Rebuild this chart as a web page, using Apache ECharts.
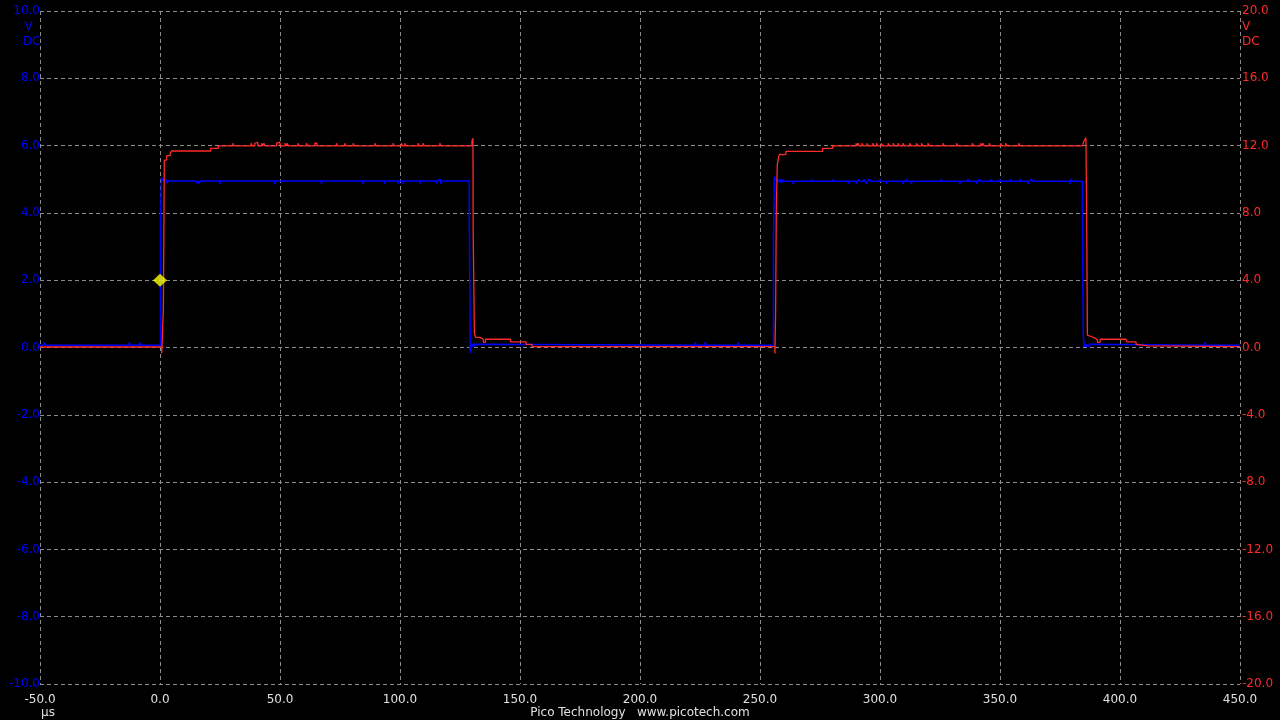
<!DOCTYPE html>
<html>
<head>
<meta charset="utf-8">
<script src="https://cdn.jsdelivr.net/npm/echarts@6/dist/echarts.min.js"></script>
<style>
html,body{margin:0;padding:0;background:#000;}
#chart{width:1280px;height:720px;}
</style>
</head>
<body>
<div id="chart"></div>
<script>
// Time axis (µs) and voltage axes
const xTicks = [-50, 0, 50, 100, 150, 200, 250, 300, 350, 400, 450];
const leftTicks = [-10, -8, -6, -4, -2, 0, 2, 4, 6, 8, 10];
const rightTicks = [-20, -16, -12, -8, -4, 0, 4, 8, 12, 16, 20];

// Channel A (blue, left axis, V) — [time µs, volts], sample-and-hold
const channelA = [
  [-50, 0.07], [-48.5, 0.15], [-47.8, 0.07], [-12.8, 0.15], [-12.2, 0.07], [-8.6, 0.15], [-8.0, 0.07],
  [0.2, 3.9], [0.6, 5.05], [1.4, 4.95], [2.0, 5.0], [2.4, 4.95], [3.0, 4.88], [3.4, 4.95], [3.8, 5.0], [4.2, 4.95],
  [9.5, 5.0], [10.0, 4.95], [11.2, 5.0], [11.6, 4.95],
  [14.8, 5.0], [15.3, 4.88], [15.8, 4.95], [16.3, 4.88], [16.8, 4.95],
  [24.8, 4.85], [25.3, 4.95],
  [34.0, 5.0], [34.4, 4.95], [35.8, 5.0], [36.2, 4.95], [38.0, 5.0], [38.4, 4.95],
  [46.9, 5.0], [47.3, 4.95], [47.8, 4.85], [48.2, 4.95], [48.6, 5.0], [49.0, 4.95],
  [55.6, 5.0], [56.0, 4.95], [57.6, 5.0], [58.0, 4.95],
  [62.8, 5.0], [63.2, 4.95], [64.6, 5.0], [65.0, 4.95], [67.2, 4.87], [67.7, 4.95],
  [84.5, 4.87], [85.0, 4.95], [87.5, 5.0], [87.9, 4.95],
  [93.6, 4.87], [94.1, 4.95], [95.8, 5.0], [96.2, 4.95],
  [99.2, 4.87], [99.6, 4.95], [101.2, 4.87], [101.7, 4.95], [102.8, 5.0], [103.2, 4.95],
  [108.2, 4.87], [108.7, 4.95], [111.8, 5.0], [112.2, 4.95],
  [115.2, 4.87], [115.6, 4.95], [116.4, 5.0], [116.8, 4.87], [117.3, 4.95],
  [128.9, 3.66], [129.3, -0.17], [129.9, 0.1], [130.4, 0.02], [130.9, 0.12], [131.4, 0.03], [131.9, 0.1], [132.5, 0.065],
  [223.0, 0.15], [223.5, 0.065], [227.0, 0.15], [227.5, 0.065], [240.8, 0.15], [241.3, 0.065],
  [255.6, 3.27], [256.0, 5.08], [256.6, 4.98], [257.0, 4.94],
  [258.0, 5.0], [258.4, 4.9], [258.8, 5.0], [259.2, 4.9], [259.6, 5.0], [260.0, 4.94],
  [263.7, 4.85], [264.2, 4.94], [271.4, 5.0], [271.9, 4.94], [280.5, 5.0], [281.0, 4.94],
  [286.8, 4.86], [287.3, 4.94], [290.1, 4.86], [290.6, 4.94], [291.0, 5.0], [291.5, 4.94],
  [293.2, 5.0], [293.7, 4.94], [294.3, 4.86], [294.8, 4.94], [295.6, 5.0], [296.2, 4.94],
  [299.9, 5.0], [300.4, 4.94], [302.6, 4.86], [303.2, 4.94], [309.5, 4.86], [310.0, 4.94],
  [310.9, 5.0], [311.4, 4.94], [313.0, 4.86], [313.5, 4.94], [325.5, 5.0], [326.0, 4.94],
  [333.1, 4.86], [333.6, 4.94], [336.6, 5.0], [337.1, 4.94], [340.2, 4.86], [340.7, 4.94],
  [341.4, 5.0], [341.9, 4.94], [346.3, 5.0], [346.8, 4.94], [349.9, 5.0], [350.4, 4.94],
  [354.0, 5.0], [354.5, 4.94], [358.2, 5.0], [358.7, 4.94], [361.7, 4.86], [362.2, 4.94],
  [363.0, 5.0], [363.5, 4.94], [379.1, 4.86], [379.6, 5.0], [380.1, 4.94],
  [384.3, 4.38], [384.7, 0.37], [385.1, 0.02], [385.5, 0.1], [385.9, 0.02], [386.4, 0.1], [386.9, 0.03], [387.5, 0.1], [388.2, 0.065],
  [435.3, 0.15], [435.8, 0.065], [450, 0.065]
];

// Channel B (red, right axis, V) — [time µs, volts], sample-and-hold
const channelB = [
  [-50, 0.03], [0.7, -0.35], [1.4, 2.2], [1.8, 11.14], [2.8, 11.4], [4.2, 11.54], [4.9, 11.68], [21.1, 11.84], [24.3, 11.98],
  [30.4, 12.14], [30.9, 11.98],
  [38.0, 12.14], [38.5, 11.98], [39.5, 12.14], [40.2, 12.2], [40.6, 12.14], [41.0, 11.98],
  [42.4, 12.14], [42.8, 11.98], [43.3, 12.14], [43.8, 11.98],
  [48.6, 12.14], [49.4, 12.2], [50.0, 11.98],
  [52.1, 12.14], [52.6, 11.98], [53.0, 12.14], [53.5, 11.98],
  [57.5, 12.14], [58.0, 11.98], [61.0, 12.14], [61.5, 11.98],
  [64.5, 12.14], [65.4, 11.98], [73.5, 12.14], [74.0, 11.98],
  [77.0, 12.14], [77.5, 11.98], [80.5, 12.14], [81.0, 11.98],
  [89.5, 12.14], [90.0, 11.98], [97.1, 12.14], [97.6, 11.98],
  [100.6, 12.14], [101.1, 11.98], [102.0, 12.14], [102.5, 11.98],
  [107.5, 12.14], [108.0, 11.98], [109.6, 12.14], [110.1, 11.98],
  [116.6, 12.14], [117.1, 11.98],
  [130.0, 12.29], [130.4, 12.43], [130.5, 6.69], [131.0, 0.84], [131.5, 0.6], [133.3, 0.49], [134.7, 0.31], [135.6, 0.49],
  [146.1, 0.33], [152.5, 0.19], [155.0, 0.05],
  [256.2, -0.35], [256.5, 1.93], [256.8, 8.27], [257.2, 10.85], [257.8, 11.38], [258.3, 11.5], [259.0, 11.45], [259.6, 11.5],
  [260.8, 11.66], [276.1, 11.84], [280.3, 11.98],
  [290.0, 12.14], [290.5, 11.98], [290.9, 12.14], [291.4, 11.98],
  [292.5, 12.14], [293.0, 11.98], [294.6, 12.14], [295.1, 11.98],
  [297.0, 12.14], [297.5, 11.98], [298.5, 12.14], [299.0, 11.98],
  [300.6, 12.14], [301.2, 11.98], [303.4, 12.14], [304.0, 11.98],
  [305.5, 12.14], [306.0, 11.98], [307.5, 12.14], [308.0, 11.98],
  [309.6, 12.14], [310.2, 11.98], [312.4, 12.14], [313.0, 11.98],
  [315.2, 12.14], [315.8, 11.98], [317.3, 12.14], [317.8, 11.98],
  [320.0, 12.14], [320.6, 11.98], [326.3, 12.14], [326.8, 11.98],
  [331.9, 12.14], [332.4, 11.98], [338.5, 12.14], [339.0, 11.98],
  [341.9, 12.14], [342.4, 11.98], [342.9, 12.14], [343.4, 11.98],
  [345.5, 12.14], [346.0, 11.98], [350.3, 12.14], [350.8, 11.98],
  [352.4, 12.14], [352.9, 11.98], [357.8, 12.14], [358.3, 11.98],
  [384.6, 12.14], [385.1, 12.29], [385.8, 12.47], [386.1, 8.27], [386.4, 0.74], [386.8, 0.64], [388.2, 0.56], [389.6, 0.45],
  [390.6, 0.31], [391.7, 0.49], [402.5, 0.4], [403.0, 0.33], [406.7, 0.19], [407.2, 0.1], [411.8, 0.05], [450, 0.05]
];

// Trigger marker
const trigger = [[0, 2.0]];

const FONT = 'DejaVu Sans';
const chart = echarts.init(document.getElementById('chart'), null, {renderer: 'canvas'});
chart.setOption({
  backgroundColor: '#000000',
  animation: false,
  grid: {left: 40, right: 40, top: 11, bottom: 36, containLabel: false},
  xAxis: {
    type: 'value', min: xTicks[0], max: xTicks[xTicks.length - 1], interval: 50,
    axisLine: {show: false}, axisTick: {show: false},
    axisLabel: {color: '#e0e0e0', fontFamily: FONT, fontSize: 12, margin: 10,
      formatter: v => v.toFixed(1), showMinLabel: true, showMaxLabel: true},
    splitLine: {show: true, lineStyle: {color: '#8c8c8c', type: [4, 3], width: 1}}
  },
  yAxis: [
    {
      type: 'value', position: 'left', min: leftTicks[0], max: leftTicks[leftTicks.length - 1], interval: 2,
      axisLine: {show: false}, axisTick: {show: false},
      axisLabel: {color: '#0000ff', fontFamily: FONT, fontSize: 12, margin: 0,
        formatter: v => v.toFixed(1), showMinLabel: true, showMaxLabel: true},
      splitLine: {show: true, lineStyle: {color: '#8c8c8c', type: [4, 3], width: 1}}
    },
    {
      type: 'value', position: 'right', min: rightTicks[0], max: rightTicks[rightTicks.length - 1], interval: 4,
      axisLine: {show: false}, axisTick: {show: false},
      axisLabel: {color: '#ff2a2a', fontFamily: FONT, fontSize: 12, margin: 2,
        formatter: v => v.toFixed(1), showMinLabel: true, showMaxLabel: true},
      splitLine: {show: false}
    }
  ],
  series: [
    {
      name: 'A', type: 'line', yAxisIndex: 0, data: channelA, step: 'end',
      showSymbol: false, lineStyle: {color: '#0000ff', width: 1.5}, z: 3
    },
    {
      name: 'B', type: 'line', yAxisIndex: 1, data: channelB, step: 'end',
      showSymbol: false, lineStyle: {color: '#ff2a2a', width: 1.3}, z: 4
    },
    {
      name: 'trigger', type: 'scatter', yAxisIndex: 0, data: trigger,
      symbol: 'diamond', symbolSize: [14, 13], itemStyle: {color: '#ffff00'}, z: 10
    }
  ],
  graphic: [
    {type: 'text', x: 28.5, y: 27, style: {text: 'V', fill: '#0000ff', font: '12px "DejaVu Sans"', align: 'center', verticalAlign: 'middle'}},
    {type: 'text', x: 40.5, y: 42, style: {text: 'DC', fill: '#0000ff', font: '12px "DejaVu Sans"', align: 'right', verticalAlign: 'middle'}},
    {type: 'text', x: 1242, y: 27, style: {text: 'V', fill: '#ff2a2a', font: '12px "DejaVu Sans"', align: 'left', verticalAlign: 'middle'}},
    {type: 'text', x: 1242, y: 42, style: {text: 'DC', fill: '#ff2a2a', font: '12px "DejaVu Sans"', align: 'left', verticalAlign: 'middle'}},
    {type: 'text', x: 48, y: 713, style: {text: 'µs', fill: '#e0e0e0', font: '12px "DejaVu Sans"', align: 'center', verticalAlign: 'middle'}},
    {type: 'text', x: 640, y: 713, style: {text: 'Pico Technology   www.picotech.com', fill: '#e0e0e0', font: '12px "DejaVu Sans"', align: 'center', verticalAlign: 'middle'}}
  ]
});
</script>
</body>
</html>
